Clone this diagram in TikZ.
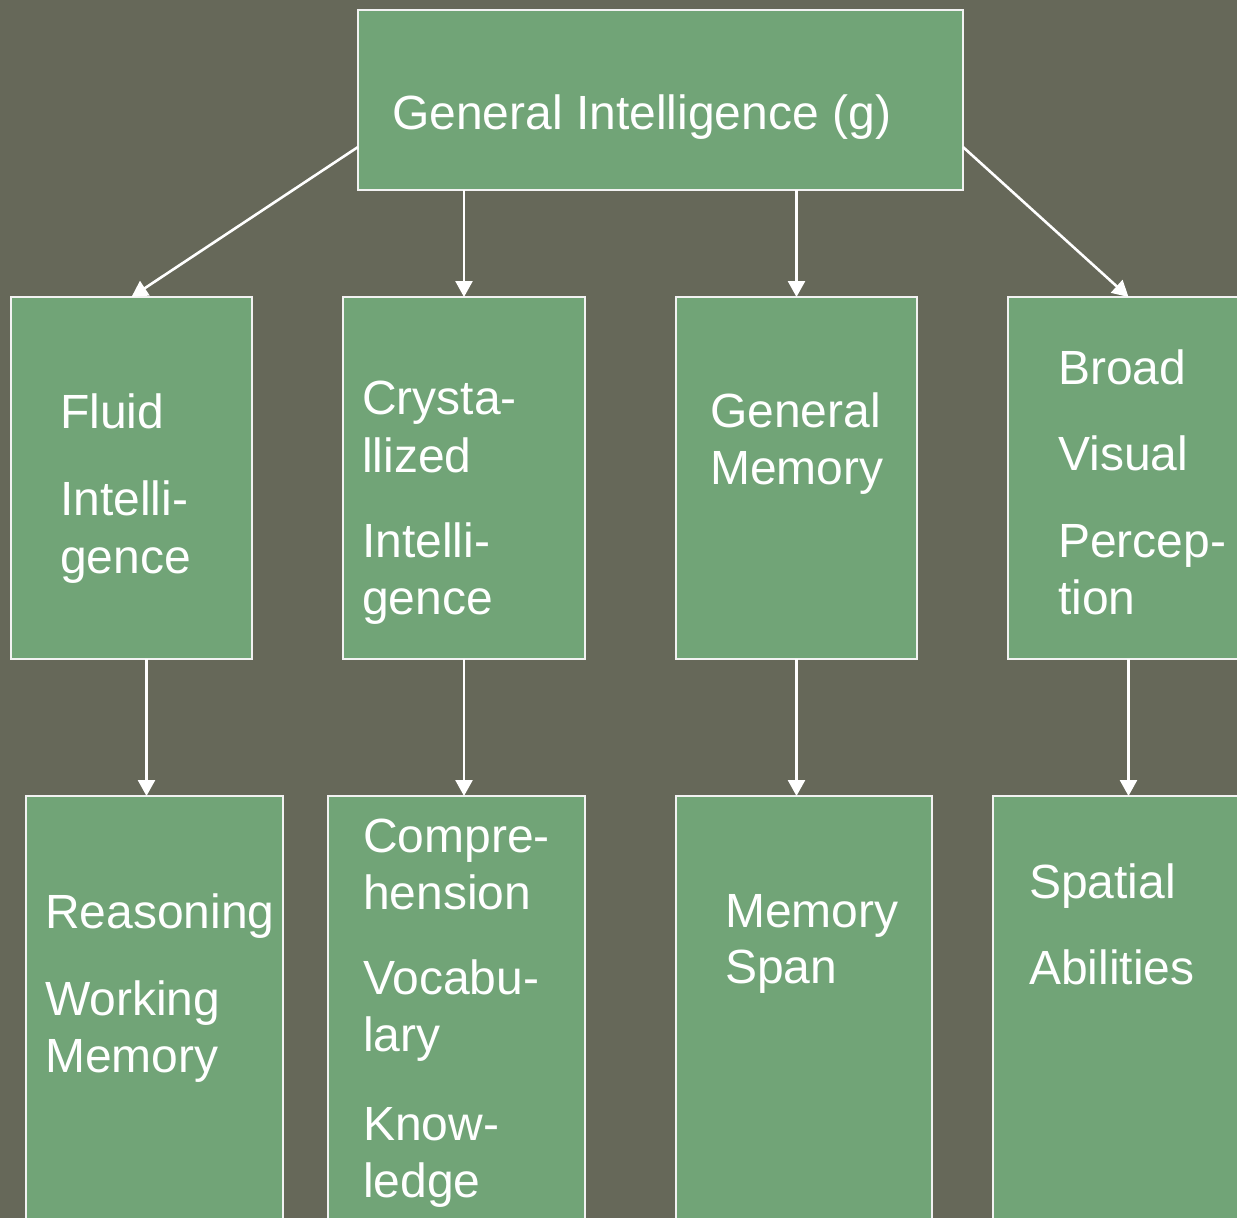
\documentclass[tikz,border=0pt]{standalone}
\usepackage{fontspec}
\setmainfont{Liberation Sans}
\usetikzlibrary{arrows.meta}
\definecolor{bgolive}{HTML}{666859}
\definecolor{boxgreen}{HTML}{71A477}
\definecolor{rimwhite}{HTML}{F2F2F2}
\tikzset{
  box/.style={draw=rimwhite, line width=2.5pt, fill=boxgreen, rectangle,
    inner sep=0pt, outer sep=0pt, anchor=north west},
  lbl/.style={text=white, inner sep=0pt, anchor=base west,
    font=\fontsize{48}{57}\selectfont},
  toplbl/.style={lbl, font=\fontsize{48}{57}\selectfont},
  arr/.style={draw=white, line width=2.6pt,
    -{Triangle[width=17pt,length=16pt]}}
}
\begin{document}
\begin{tikzpicture}[x=1pt,y=-1pt]
  \useasboundingbox (0,0) rectangle (1237,1218);
  \fill[bgolive] (0,0) rectangle (1237,1218);
  \clip (0,0) rectangle (1237,1218);

  % boxes
  \node[box, minimum width=605pt, minimum height=180pt] (gen) at (358,10) {};
  \node[box, minimum width=241pt, minimum height=362pt] (fluid) at (11,297) {};
  \node[box, minimum width=242pt, minimum height=362pt] (cryst) at (343,297) {};
  \node[box, minimum width=241pt, minimum height=362pt] (gmem) at (676,297) {};
  \node[box, minimum width=241pt, minimum height=362pt] (broad) at (1008,297) {};
  \node[box, minimum width=257pt, minimum height=460pt] (reason) at (26,796) {};
  \node[box, minimum width=257pt, minimum height=460pt] (compr) at (328,796) {};
  \node[box, minimum width=256pt, minimum height=460pt] (span) at (676,796) {};
  \node[box, minimum width=256pt, minimum height=460pt] (spatial) at (993,796) {};

  % labels
  \node[toplbl] (gen-t) at (392,129) {General Intelligence (g)};
  \foreach \t/\y [count=\i] in {Fluid/428, Intelli-/515, gence/573}
    \node[lbl] (fluid-\i) at (60,\y) {\t};
  \foreach \t/\y [count=\i] in {Crysta-/414, llized/472, Intelli-/557, gence/614}
    \node[lbl] (cryst-\i) at (362,\y) {\t};
  \foreach \t/\y [count=\i] in {General/427, Memory/484}
    \node[lbl] (gmem-\i) at (710,\y) {\t};
  \foreach \t/\y [count=\i] in {Broad/384, Visual/470, Percep-/557, tion/614}
    \node[lbl] (broad-\i) at (1058,\y) {\t};
  \foreach \t/\y [count=\i] in {Reasoning/928, Working/1015, Memory/1072}
    \node[lbl] (reason-\i) at (45,\y) {\t};
  \foreach \t/\y [count=\i] in {Compre-/852, hension/909, Vocabu-/994, lary/1051, Know-/1140, ledge/1197}
    \node[lbl] (compr-\i) at (363,\y) {\t};
  \foreach \t/\y [count=\i] in {Memory/927, Span/983}
    \node[lbl] (span-\i) at (725,\y) {\t};
  \foreach \t/\y [count=\i] in {Spatial/898, Abilities/984}
    \node[lbl] (spatial-\i) at (1029,\y) {\t};

  % connectors
  \draw[arr] ([yshift=43pt]gen.south west) -- (fluid.north);
  \draw[arr] (gen.south -| cryst.north) -- (cryst.north);
  \draw[arr] (gen.south -| gmem.north) -- (gmem.north);
  \draw[arr] ([yshift=43pt]gen.south east) -- (broad.north);
  \draw[arr] ([xshift=15pt]fluid.south) -- ([xshift=15pt]fluid.south |- reason.north);
  \draw[arr] (cryst.south) -- (cryst.south |- compr.north);
  \draw[arr] (gmem.south) -- (gmem.south |- span.north);
  \draw[arr] (broad.south) -- (broad.south |- spatial.north);
\end{tikzpicture}
\end{document}
